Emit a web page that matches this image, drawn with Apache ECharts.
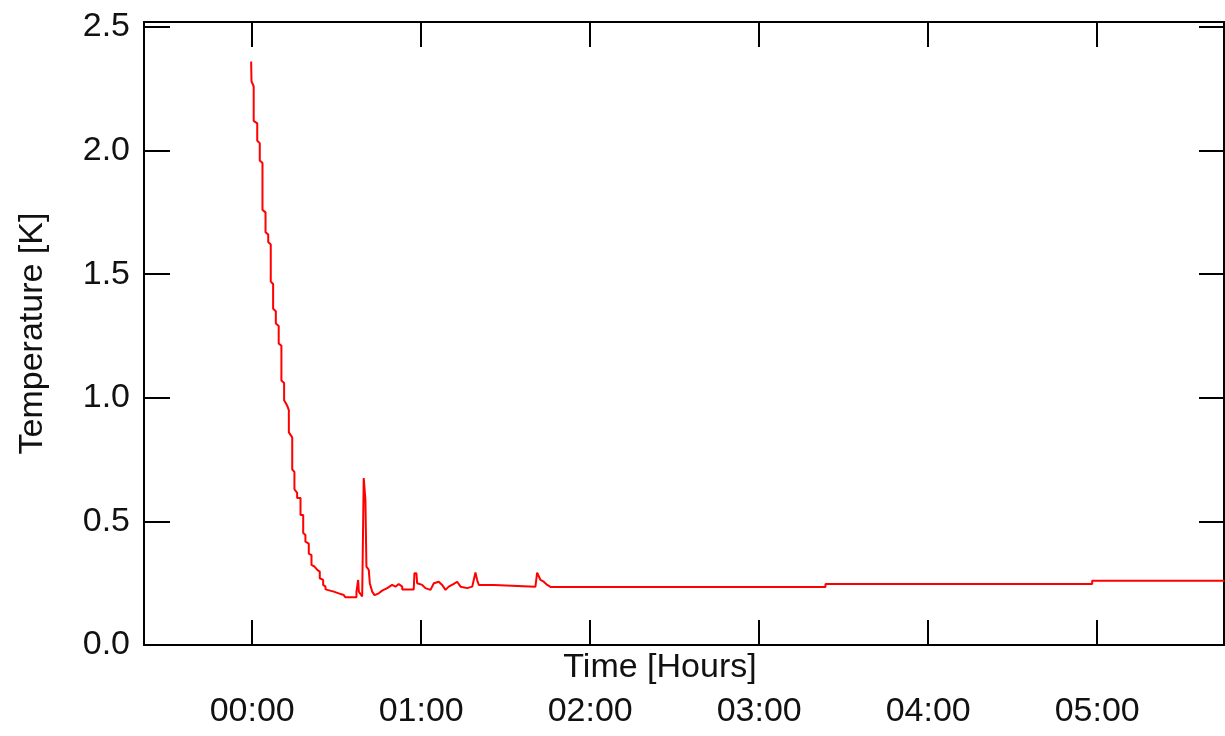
<!DOCTYPE html>
<html>
<head>
<meta charset="utf-8">
<script src="https://cdn.jsdelivr.net/npm/echarts@6/dist/echarts.min.js"></script>
<style>
  html, body { margin: 0; padding: 0; background: #fff; }
  #chart { width: 1225px; height: 736px; }
</style>
</head>
<body>
<div id="chart"></div>
<script>
// time in hours after start, temperature in K (corner points of the trace)
var timeH = [
  -0.006, -0.004, 0.009, 0.009, 0.030, 0.030, 0.045, 0.045, 0.061, 0.061,
  0.079, 0.079, 0.095, 0.095, 0.110, 0.110, 0.124, 0.124, 0.140, 0.140,
  0.157, 0.157, 0.173, 0.173, 0.189, 0.189, 0.206, 0.217, 0.217, 0.237,
  0.237, 0.250, 0.250, 0.266, 0.266, 0.286, 0.286, 0.302, 0.302, 0.315,
  0.315, 0.335, 0.335, 0.351, 0.351, 0.369, 0.385, 0.400, 0.400, 0.420,
  0.420, 0.434, 0.434, 0.483, 0.512, 0.542, 0.552, 0.617, 0.617, 0.627,
  0.631, 0.641, 0.651, 0.660, 0.670, 0.676, 0.690, 0.696, 0.710, 0.724,
  0.749, 0.769, 0.799, 0.828, 0.848, 0.867, 0.888, 0.888, 0.956, 0.960,
  0.972, 0.976, 1.006, 1.025, 1.055, 1.075, 1.104, 1.124, 1.144, 1.163,
  1.193, 1.213, 1.233, 1.272, 1.302, 1.321, 1.331, 1.341, 1.351, 1.370,
  1.430, 1.440, 1.676, 1.686, 1.706, 1.725, 1.746, 1.765, 3.392, 3.392,
  4.970, 4.970, 5.753
];
var tempK = [
  2.36, 2.28, 2.26, 2.12, 2.11, 2.04, 2.03, 1.96, 1.95, 1.76,
  1.75, 1.67, 1.66, 1.63, 1.62, 1.47, 1.46, 1.36, 1.35, 1.30,
  1.29, 1.22, 1.21, 1.07, 1.06, 0.99, 0.97, 0.95, 0.86, 0.84,
  0.71, 0.70, 0.63, 0.615, 0.595, 0.595, 0.526, 0.526, 0.453, 0.445,
  0.418, 0.41, 0.37, 0.364, 0.324, 0.317, 0.304, 0.297, 0.27, 0.263,
  0.243, 0.236, 0.225, 0.216, 0.209, 0.202, 0.193, 0.193, 0.216, 0.263,
  0.216, 0.209, 0.196, 0.675, 0.587, 0.317, 0.304, 0.25, 0.216, 0.202,
  0.209, 0.22, 0.23, 0.243, 0.236, 0.247, 0.236, 0.225, 0.225, 0.29,
  0.29, 0.25, 0.243, 0.23, 0.223, 0.25, 0.256, 0.243, 0.223, 0.236,
  0.247, 0.256, 0.236, 0.23, 0.236, 0.293, 0.263, 0.243, 0.25, 0.243,
  0.243, 0.236, 0.236, 0.293, 0.263, 0.256, 0.243, 0.235, 0.235, 0.247,
  0.247, 0.26, 0.26
];
var hourTicks = [0, 1, 2, 3, 4, 5];
var tempTicks = [0, 0.5, 1.0, 1.5, 2.0, 2.5];

var font = '"Liberation Sans", Arial, sans-serif';
var ink = '#111';

var points = [];
for (var i = 0; i < timeH.length; i++) {
  points.push([timeH[i], tempK[i]]);
}

var chart = echarts.init(document.getElementById('chart'));

var frameLine = { show: true, onZero: false, lineStyle: { color: '#000', width: 2 } };

chart.setOption({
  animation: false,
  backgroundColor: '#fff',
  grid: { left: 144, right: 1, top: 22, bottom: 91 },
  xAxis: [
    {
      type: 'value',
      position: 'bottom',
      min: -0.64,
      max: 5.75,
      axisLine: frameLine,
      axisTick: { show: true, inside: true, length: 25, customValues: hourTicks, lineStyle: { color: '#000', width: 2 } },
      axisLabel: {
        customValues: hourTicks,
        margin: 50,
        fontFamily: font,
        fontSize: 34,
        color: ink,
        formatter: function (v) { return '0' + v + ':00'; }
      },
      splitLine: { show: false },
      name: 'Time [Hours]',
      nameLocation: 'middle',
      nameGap: 6,
      nameMoveOverlap: false,
      nameTextStyle: { fontFamily: font, fontSize: 34, color: ink, padding: [0, 48, 0, 0] }
    },
    {
      type: 'value',
      position: 'top',
      min: -0.64,
      max: 5.75,
      axisLine: frameLine,
      axisTick: { show: true, inside: true, length: 25, customValues: hourTicks, lineStyle: { color: '#000', width: 2 } },
      axisLabel: { show: false },
      splitLine: { show: false }
    }
  ],
  yAxis: [
    {
      type: 'value',
      position: 'left',
      min: 0,
      max: 2.52,
      axisLine: frameLine,
      axisTick: { show: true, inside: true, length: 26, customValues: tempTicks, lineStyle: { color: '#000', width: 2 } },
      axisLabel: {
        customValues: tempTicks,
        margin: 14,
        fontFamily: font,
        fontSize: 34,
        color: ink,
        formatter: function (v) { return v.toFixed(1); }
      },
      splitLine: { show: false },
      name: 'Temperature [K]',
      nameLocation: 'middle',
      nameGap: 94,
      nameMoveOverlap: false,
      nameTextStyle: { fontFamily: font, fontSize: 34, color: ink }
    },
    {
      type: 'value',
      position: 'right',
      min: 0,
      max: 2.52,
      axisLine: frameLine,
      axisTick: { show: true, inside: true, length: 25, customValues: tempTicks, lineStyle: { color: '#000', width: 2 } },
      axisLabel: { show: false },
      splitLine: { show: false }
    }
  ],
  series: [
    {
      type: 'line',
      xAxisIndex: 0,
      yAxisIndex: 0,
      data: points,
      showSymbol: false,
      lineStyle: { color: '#ff0000', width: 2 },
      itemStyle: { color: '#ff0000' }
    }
  ]
});
</script>
</body>
</html>
